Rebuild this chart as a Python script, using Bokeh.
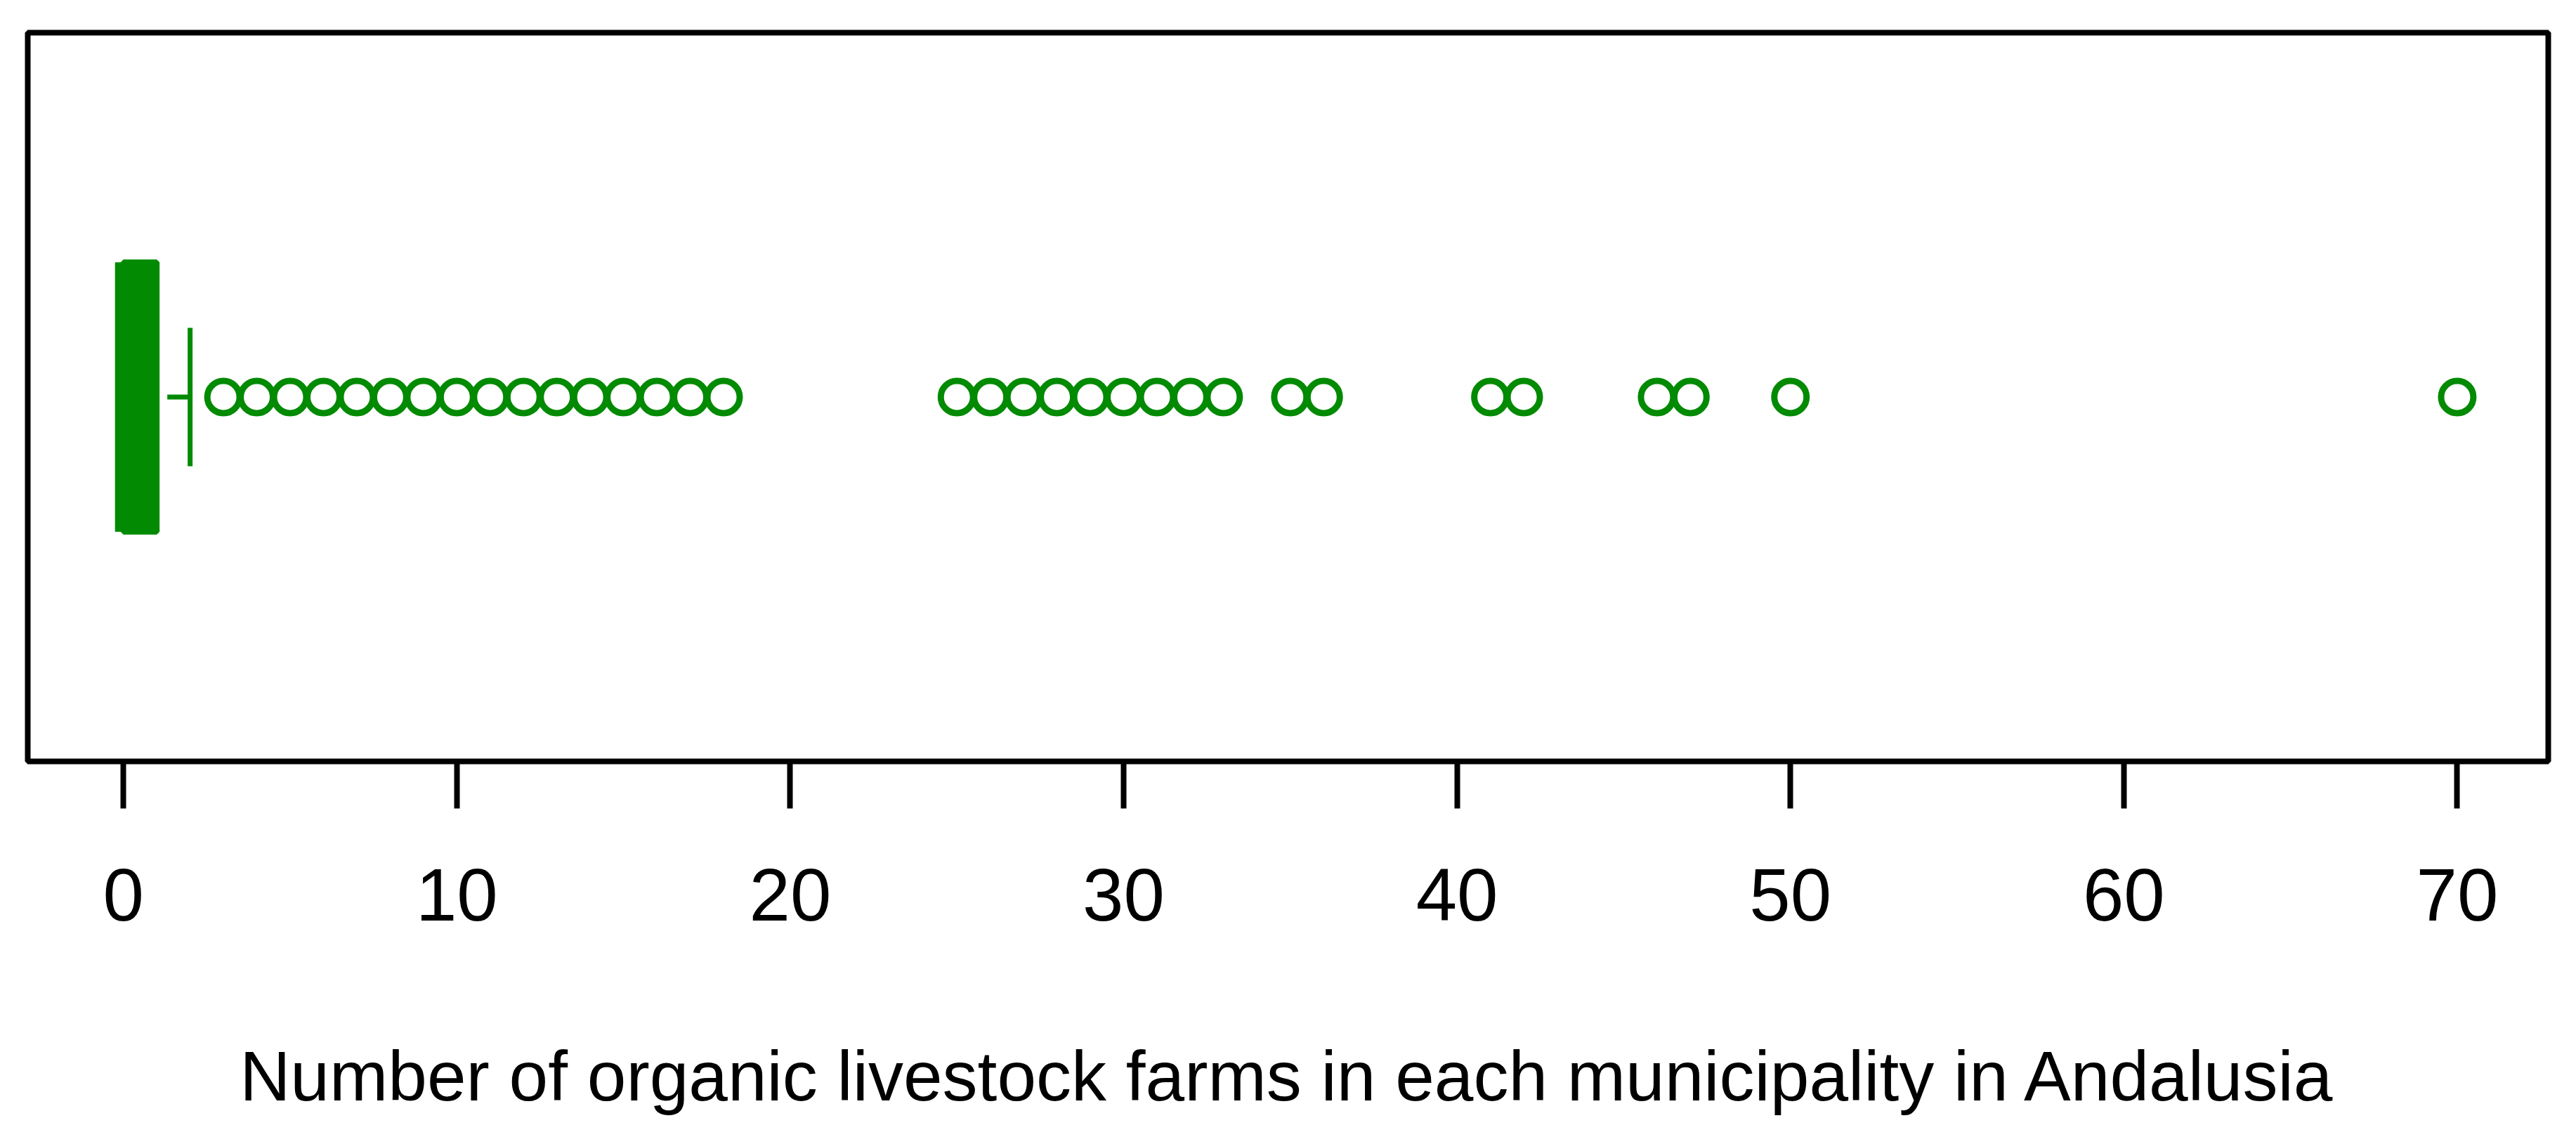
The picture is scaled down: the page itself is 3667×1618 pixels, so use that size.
from bokeh.plotting import figure
from bokeh.models import Range1d, FixedTicker, ColumnDataSource
from bokeh.embed import file_html
from bokeh.resources import INLINE

# ---- data ----
q1 = 0
median = 0
q3 = 1
whisker_low = 0
whisker_high = 2
outliers = [3, 4, 5, 6, 7, 8, 9, 10, 11, 12, 13, 14, 15, 16, 17, 18,
            25, 26, 27, 28, 29, 30, 31, 32, 33, 35, 36, 41, 42, 46, 47, 50, 70]
tick_values = [0, 10, 20, 30, 40, 50, 60, 70]
x_title = "Number of organic livestock farms in each municipality in Andalusia"

# ---- styles ----
GREEN = "#038a03"
FONT = "Liberation Sans"
BOX_HALF = 0.185
CAP_HALF = 0.095
POS = 1.0

p = figure(frame_width=3588, frame_height=1037,
           min_border_left=39, min_border_right=24, min_border_top=46, min_border_bottom=519,
           x_range=Range1d(-2.87, 72.73), y_range=Range1d(0.5, 1.5),
           y_axis_location=None, toolbar_location=None, output_backend="svg",
           background_fill_color="white", border_fill_color="white")

p.grid.visible = False
p.outline_line_color = "black"
p.outline_line_width = 8

ax = p.xaxis[0]
ax.ticker = FixedTicker(ticks=tick_values)
ax.axis_line_color = None
ax.major_tick_in = 0
ax.major_tick_out = 67
ax.major_tick_line_width = 8
ax.major_tick_line_color = "black"
ax.minor_tick_line_color = None
ax.major_label_text_font = FONT
ax.major_label_text_font_size = "105px"
ax.major_label_text_color = "black"
ax.major_label_standoff = 86
ax.axis_label = x_title
ax.axis_label_text_font = FONT
ax.axis_label_text_font_size = "100px"
ax.axis_label_text_font_style = "normal"
ax.axis_label_text_color = "black"
ax.axis_label_standoff = 162

# whisker (start hidden behind box border as in original)
p.segment(x0=[q3], y0=[POS], x1=[whisker_high], y1=[POS], line_color=GREEN,
          line_width=7, line_dash="0 15 200 1")
p.segment(x0=[whisker_low], y0=[POS], x1=[q1], y1=[POS], line_color=GREEN, line_width=7)
# whisker caps
p.segment(x0=[whisker_high, whisker_low], y0=[POS - CAP_HALF] * 2,
          x1=[whisker_high, whisker_low], y1=[POS + CAP_HALF] * 2,
          line_color=GREEN, line_width=7)
# box
p.quad(left=[q1], right=[q3], bottom=[POS - BOX_HALF], top=[POS + BOX_HALF],
       fill_color=GREEN, line_color=GREEN, line_width=8)
# median
p.segment(x0=[median], y0=[POS - BOX_HALF], x1=[median], y1=[POS + BOX_HALF],
          line_color=GREEN, line_width=24)
# outliers
src = ColumnDataSource(dict(x=outliers, y=[POS] * len(outliers)))
p.scatter(x="x", y="y", source=src, marker="circle", size=46,
          fill_color=None, line_color=GREEN, line_width=9)

open("out.html", "w").write(file_html(p, INLINE))
